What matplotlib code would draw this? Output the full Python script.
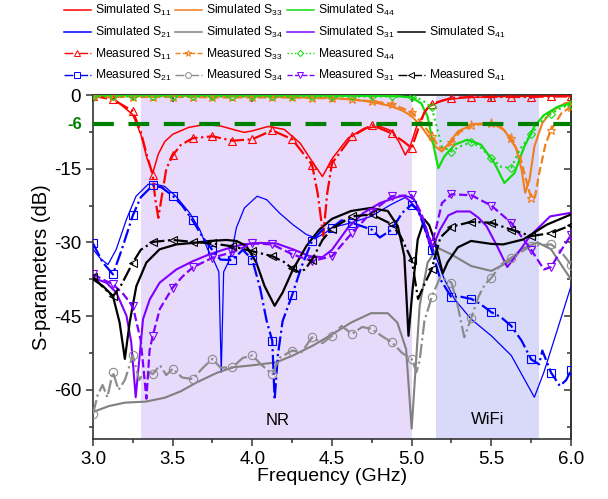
import matplotlib
matplotlib.use('Agg')
import matplotlib.pyplot as plt
from matplotlib.lines import Line2D
from matplotlib.font_manager import FontProperties
import matplotlib.transforms as mtransforms
import numpy as np

plt.rcParams['font.family'] = ['Liberation Sans', 'DejaVu Sans']
plt.rcParams['mathtext.default'] = 'regular'
plt.rcParams['axes.unicode_minus'] = False

# ---- simulated curves (freq GHz, dB) ----
f_s11 = [3.0, 3.125, 3.25, 3.3, 3.34, 3.375, 3.41, 3.45, 3.5, 3.6, 3.7, 3.8, 3.9, 3.95, 4.0, 4.1, 4.2, 4.3,
         4.375, 4.44, 4.5, 4.6, 4.7, 4.8, 4.875, 4.92, 4.96, 4.99, 5.03, 5.1, 5.2, 5.35, 5.6, 6.0]
s_s11 = [-0.2, -0.6, -4.0, -8.0, -13.0, -15.9, -12.0, -9.5, -8.0, -6.6, -6.0, -6.3, -7.2, -7.6, -7.3, -6.4, -7.0, -9.8,
         -13.5, -16.6, -13.0, -8.8, -6.8, -6.4, -7.3, -9.5, -12.2, -10.5, -6.5, -2.5, -1.0, -0.5, -0.3, -0.2]

f_s33 = [3.0, 3.5, 4.0, 4.5, 4.625, 4.75, 4.875, 4.95, 5.0, 5.06, 5.1, 5.15, 5.19, 5.23, 5.29, 5.39, 5.5, 5.58,
         5.655, 5.69, 5.712, 5.74, 5.77, 5.82, 5.875, 5.96, 6.0]
s_s33 = [-0.1, -0.15, -0.3, -0.6, -0.9, -1.4, -2.3, -3.3, -4.3, -6.4, -8.2, -10.5, -11.5, -10.0, -7.4, -5.9, -5.7, -7.1,
         -10.8, -15.2, -19.9, -17.2, -10.5, -5.7, -3.4, -1.7, -1.4]

f_s44 = [3.0, 4.0, 4.9, 5.0, 5.06, 5.1, 5.13, 5.167, 5.205, 5.27, 5.35, 5.435, 5.52, 5.582, 5.645, 5.707, 5.77,
         5.83, 5.916, 6.0]
s_s44 = [-0.05, -0.05, -0.2, -0.5, -1.7, -4.4, -9.1, -14.9, -12.5, -10.1, -9.1, -10.1, -13.9, -17.9, -15.9, -10.5, -6.4,
         -4.1, -2.4, -1.7]

f_s21 = [3.0, 3.05, 3.094, 3.146, 3.21, 3.27, 3.345, 3.387, 3.45, 3.52, 3.607, 3.67, 3.72, 3.76, 3.79, 3.805, 3.82,
         3.85, 3.87, 3.9, 3.95, 4.03, 4.09, 4.17, 4.255, 4.34, 4.4, 4.46, 4.5, 4.62, 4.745, 4.87, 4.975, 5.017, 5.08,
         5.143, 5.205, 5.27, 5.373, 5.5, 5.625, 5.707, 5.77, 5.83, 5.916, 6.0]
s_s21 = [-31.4, -33.4, -34.5, -31.4, -25.3, -20.6, -18.2, -18.1, -18.6, -20.6, -24.0, -27.4, -31.4, -33.8, -36.0, -56.4,
         -36.0, -34.0, -32.0, -27.0, -23.0, -20.6, -21.3, -24.0, -26.4, -28.4, -29.1, -28.0, -27.0, -26.0, -24.7, -22.3,
         -20.6, -21.3, -26.0, -32.1, -37.5, -41.6, -45.6, -49.0, -53.0, -57.8, -61.5, -56.4, -47.6, -38.9]

f_s34 = [3.0, 3.1, 3.2, 3.33, 3.45, 3.55, 3.65, 3.78, 3.88, 4.0, 4.15, 4.255, 4.38, 4.506, 4.62, 4.745, 4.85, 4.91,
         4.965, 5.0, 5.03, 5.05, 5.1, 5.163, 5.247, 5.373, 5.5, 5.6, 5.686, 5.79, 5.875, 5.958, 6.0]
s_s34 = [-64.5, -63.3, -62.6, -62.4, -61.6, -60.3, -58.5, -56.5, -55.4, -55.0, -54.4, -53.0, -51.0, -48.6, -46.3, -44.4,
         -44.4, -46.3, -51.7, -67.9, -53.0, -42.9, -34.1, -31.1, -32.4, -34.8, -35.8, -34.1, -31.4, -30.0, -31.4, -35.5,
         -37.5]

f_s31 = [3.0, 3.084, 3.146, 3.21, 3.24, 3.268, 3.293, 3.314, 3.356, 3.418, 3.523, 3.628, 3.732, 3.837, 3.94, 4.046,
         4.15, 4.255, 4.36, 4.44, 4.5, 4.6, 4.697, 4.8, 4.906, 4.95, 4.99, 5.04, 5.074, 5.1, 5.126, 5.15, 5.178, 5.23,
         5.283, 5.366, 5.42, 5.47, 5.54, 5.6, 5.66, 5.743, 5.869, 5.994]
s_s31 = [-37.2, -38.2, -40.2, -44.9, -50.3, -61.5, -53.0, -45.6, -41.6, -38.2, -35.5, -33.8, -32.4, -31.3, -30.4, -30.1,
         -30.2, -31.4, -32.8, -33.0, -31.5, -27.0, -24.0, -22.0, -20.8, -20.5, -21.6, -23.5, -26.0, -29.0, -31.4, -29.5,
         -27.4, -24.5, -23.7, -23.7, -25.0, -26.7, -31.0, -35.0, -32.5, -28.7, -24.7, -24.0]

f_s41 = [3.0, 3.063, 3.125, 3.167, 3.2, 3.23, 3.272, 3.335, 3.418, 3.523, 3.628, 3.732, 3.837, 3.9, 3.962, 4.025, 4.077,
         4.14, 4.19, 4.255, 4.34, 4.42, 4.5, 4.62, 4.74, 4.85, 4.913, 4.954, 4.98, 5.006, 5.038, 5.08, 5.11, 5.143,
         5.195, 5.226, 5.29, 5.373, 5.5, 5.575, 5.7, 5.847, 6.0]
s_s41 = [-37.5, -38.9, -40.9, -46.3, -53.7, -46.3, -38.9, -34.1, -31.4, -30.4, -30.1, -29.7, -29.5, -29.7, -30.7, -34.1,
         -38.9, -42.9, -40.2, -35.5, -30.7, -27.4, -25.2, -23.6, -23.0, -23.6, -26.7, -32.8, -49.0, -39.5, -29.4, -25.3,
         -26.5, -29.5, -36.3, -34.0, -31.0, -29.7, -30.3, -30.4, -29.4, -26.4, -24.3]

# ---- measured curves (freq GHz, dB) ----
f_m11 = [3.0, 3.125, 3.25, 3.3, 3.34, 3.375, 3.39, 3.41, 3.43, 3.46, 3.5, 3.55, 3.625, 3.75, 3.875, 4.0, 4.125, 4.25,
         4.375, 4.41, 4.445, 4.47, 4.5, 4.625, 4.75, 4.875, 4.95, 5.0, 5.04, 5.08, 5.125, 5.25, 5.375, 5.5, 5.625, 5.75,
         5.875, 6.0]
s_m11 = [-0.2, -0.9, -3.3, -7.5, -12.5, -16.3, -21.0, -25.0, -21.0, -15.0, -12.3, -10.2, -8.8, -8.4, -9.3, -9.0, -7.2,
         -9.0, -14.2, -20.0, -28.7, -20.0, -13.9, -8.4, -6.1, -7.8, -9.5, -10.8, -7.0, -3.5, -1.8, -0.6, -0.4, -0.4, -0.4,
         -0.4, -0.3, -0.3]

f_m33 = [3.0, 3.125, 3.25, 3.375, 3.5, 3.625, 3.75, 3.875, 4.0, 4.125, 4.25, 4.375, 4.5, 4.625, 4.75, 4.875, 5.0, 5.06,
         5.125, 5.17, 5.2, 5.25, 5.3, 5.375, 5.5, 5.56, 5.625, 5.68, 5.72, 5.75, 5.775, 5.8, 5.84, 5.875, 5.94, 6.0]
s_m33 = [-0.3, -0.4, -0.4, -0.4, -0.4, -0.4, -0.5, -0.5, -0.5, -0.5, -0.5, -0.6, -0.7, -0.9, -1.3, -1.8, -3.5, -5.5,
         -8.3, -10.6, -10.9, -9.6, -7.6, -6.2, -5.7, -6.5, -8.8, -12.5, -17.5, -21.0, -20.6, -16.0, -10.0, -7.1, -3.7, -2.4]

f_m44 = [3.0, 3.125, 3.25, 3.375, 3.5, 3.625, 3.75, 3.875, 4.0, 4.125, 4.25, 4.375, 4.5, 4.625, 4.75, 4.875, 5.0, 5.06,
         5.125, 5.15, 5.19, 5.25, 5.3, 5.375, 5.43, 5.5, 5.56, 5.625, 5.68, 5.75, 5.8, 5.875, 5.94, 6.0]
s_m44 = [-0.3, -0.3, -0.3, -0.3, -0.3, -0.3, -0.3, -0.3, -0.3, -0.3, -0.3, -0.3, -0.3, -0.3, -0.3, -0.3, -0.4, -0.9,
         -2.5, -5.5, -10.5, -11.5, -10.5, -9.6, -10.6, -12.8, -14.6, -14.8, -11.0, -8.0, -5.8, -3.8, -2.6, -1.9]

f_m21 = [3.0, 3.06, 3.125, 3.18, 3.25, 3.3, 3.375, 3.43, 3.5, 3.56, 3.625, 3.69, 3.75, 3.8, 3.875, 3.94, 4.0, 4.05, 4.09,
         4.125, 4.14, 4.16, 4.19, 4.25, 4.31, 4.375, 4.44, 4.5, 4.56, 4.625, 4.75, 4.8, 4.875, 4.94, 5.0, 5.04, 5.08,
         5.125, 5.18, 5.25, 5.3, 5.375, 5.43, 5.5, 5.56, 5.625, 5.69, 5.75, 5.8, 5.82, 5.875, 5.93, 5.97, 6.0]
s_m21 = [-30.2, -34.0, -36.5, -31.5, -24.5, -20.8, -18.4, -18.8, -20.5, -22.5, -25.5, -29.0, -31.6, -33.5, -33.6, -31.5,
         -33.5, -39.5, -46.0, -50.0, -62.0, -53.0, -46.0, -40.7, -34.8, -29.7, -27.4, -27.0, -25.5, -26.0, -27.4, -29.0,
         -27.4, -24.0, -22.3, -23.5, -27.0, -31.5, -37.5, -41.2, -41.0, -41.5, -42.5, -44.2, -45.2, -47.0, -50.0, -53.8,
         -54.8, -52.0, -56.5, -59.2, -58.0, -56.0]

f_m34 = [3.0, 3.03, 3.06, 3.09, 3.125, 3.16, 3.2, 3.25, 3.29, 3.33, 3.375, 3.42, 3.46, 3.5, 3.56, 3.625, 3.69, 3.75, 3.8,
         3.875, 3.94, 4.0, 4.06, 4.125, 4.17, 4.25, 4.31, 4.375, 4.44, 4.5, 4.56, 4.625, 4.69, 4.75, 4.81, 4.875, 4.94,
         5.0, 5.03, 5.05, 5.08, 5.125, 5.18, 5.25, 5.29, 5.33, 5.375, 5.42, 5.46, 5.5, 5.56, 5.625, 5.75, 5.875, 5.94, 6.0]
s_m34 = [-64.9, -61.0, -59.0, -61.5, -56.4, -60.0, -58.0, -53.0, -58.0, -56.0, -56.8, -55.0, -57.0, -55.7, -57.5, -57.8,
         -55.5, -53.7, -55.5, -55.4, -53.5, -53.0, -55.0, -56.8, -53.5, -52.0, -52.3, -49.3, -50.5, -49.0, -47.0, -48.6,
         -47.2, -47.6, -49.0, -50.3, -52.5, -53.7, -56.4, -54.0, -46.0, -41.2, -37.0, -38.2, -43.0, -49.3, -45.3, -41.0,
         -38.5, -37.2, -34.5, -33.1, -30.7, -30.4, -32.0, -34.5]

f_m31 = [3.0, 3.06, 3.125, 3.19, 3.25, 3.3, 3.335, 3.355, 3.375, 3.42, 3.5, 3.56, 3.625, 3.75, 3.875, 4.0, 4.125, 4.25,
         4.375, 4.5, 4.625, 4.75, 4.875, 5.0, 5.06, 5.1, 5.125, 5.15, 5.19, 5.25, 5.375, 5.5, 5.625, 5.75, 5.83, 5.875,
         5.94, 6.0]
s_m31 = [-36.5, -37.5, -38.5, -40.5, -43.0, -50.0, -61.8, -52.0, -49.0, -43.5, -39.2, -37.0, -35.1, -33.1, -32.0, -30.2,
         -30.4, -32.4, -33.8, -32.8, -28.1, -23.8, -20.6, -20.4, -24.0, -28.0, -30.4, -27.5, -22.0, -20.2, -20.4, -22.5,
         -26.0, -31.5, -35.5, -35.0, -31.5, -28.5]

f_m41 = [3.0, 3.06, 3.125, 3.18, 3.25, 3.3, 3.375, 3.5, 3.625, 3.75, 3.875, 4.0, 4.125, 4.2, 4.25, 4.29, 4.33, 4.375,
         4.44, 4.5, 4.625, 4.75, 4.875, 4.93, 5.0, 5.04, 5.08, 5.125, 5.18, 5.25, 5.375, 5.5, 5.625, 5.75, 5.875, 6.0]
s_m41 = [-37.0, -39.0, -41.0, -38.5, -34.1, -31.5, -29.9, -29.5, -29.9, -30.2, -30.8, -31.8, -32.8, -34.0, -35.3, -36.0,
         -35.5, -33.5, -29.5, -27.2, -24.7, -24.3, -26.3, -28.7, -33.5, -41.5, -38.5, -35.5, -29.0, -26.8, -25.8, -26.0,
         -27.4, -28.7, -28.1, -26.5]

RED, ORANGE, GREEN, BLUE = '#ff0000', '#f07f1e', '#11dd11', '#0000ff'
GRAY, PURPLE, BLACK = '#808080', '#8000ff', '#000000'

sim = [
    ('Simulated S$_{11}$', f_s11, s_s11, dict(color=RED, lw=1.1)),
    ('Simulated S$_{21}$', f_s21, s_s21, dict(color=BLUE, lw=0.9)),
    ('Simulated S$_{33}$', f_s33, s_s33, dict(color=ORANGE, lw=1.5)),
    ('Simulated S$_{34}$', f_s34, s_s34, dict(color=GRAY, lw=1.5)),
    ('Simulated S$_{44}$', f_s44, s_s44, dict(color=GREEN, lw=1.6)),
    ('Simulated S$_{31}$', f_s31, s_s31, dict(color=PURPLE, lw=1.5)),
    ('Simulated S$_{41}$', f_s41, s_s41, dict(color=BLACK, lw=1.6)),
]
meas = [
    ('Measured S$_{11}$', f_m11, s_m11, dict(color=RED, lw=1.6, ls='-.', marker='^')),
    ('Measured S$_{21}$', f_m21, s_m21, dict(color=BLUE, lw=1.6, ls='-.', marker='s')),
    ('Measured S$_{33}$', f_m33, s_m33, dict(color=ORANGE, lw=1.6, ls='--', marker='*')),
    ('Measured S$_{34}$', f_m34, s_m34, dict(color='#8c8c8c', lw=1.6, ls='-.', marker='o')),
    ('Measured S$_{44}$', f_m44, s_m44, dict(color=GREEN, lw=1.5, ls=':', marker='D')),
    ('Measured S$_{31}$', f_m31, s_m31, dict(color=PURPLE, lw=1.6, ls='--', marker='v')),
    ('Measured S$_{41}$', f_m41, s_m41, dict(color=BLACK, lw=1.6, ls='-.', marker='<')),
]
msize = {'^': 6, 's': 5.5, '*': 6.5, 'o': 6, 'D': 4.5, 'v': 6, '<': 6}

fig = plt.figure(figsize=(6.08, 4.99), dpi=100)
ax = fig.add_axes([93 / 608, 60 / 499, 478 / 608, 344 / 499])

ax.axvspan(3.3, 5.0, color='#e8dafb', lw=0, zorder=0)
ax.axvspan(5.15, 5.8, color='#d9dafa', lw=0, zorder=0)

handles = {}
for lab, f, s, st in sim:
    ax.plot(f, s, **st, zorder=3)
    handles[lab] = Line2D([], [], color=st['color'], lw=1.1)

for lab, f, s, st in meas:
    f = np.asarray(f)
    r = (f - 3.0) / 0.125
    mk = list(np.isclose(r, np.round(r)))
    ms = msize[st['marker']]
    ax.plot(f, s, **st, ms=ms, mfc='none', mew=0.8, markevery=mk, zorder=3)
    handles[lab] = Line2D([], [], color=st['color'], lw=1.0, ls=st['ls'], marker=st['marker'],
                          ms=ms * 0.7, mfc='white', mew=0.7)

ax.axhline(-6, color='#008000', lw=3, ls=(0, (5, 3.5)), zorder=5)
trans = mtransforms.blended_transform_factory(ax.transAxes, ax.transData)
ax.text(-0.023, -6, '-6', transform=trans, ha='right', va='center',
        color='#008000', fontsize=12, fontweight='bold')

ax.text(4.16, -66.3, 'NR', fontsize=12, ha='center', va='center')
ax.text(5.475, -66.0, 'WiFi', fontsize=12, ha='center', va='center')

ax.set_xlim(3.0, 6.0)
ax.set_ylim(-70, 0)
ax.set_xticks([3.0, 3.5, 4.0, 4.5, 5.0, 5.5, 6.0])
ax.set_xticks(np.arange(3.25, 6.0, 0.5), minor=True)
ax.set_yticks([0, -15, -30, -45, -60])
ax.set_yticks([-7.5, -22.5, -37.5, -52.5, -67.5], minor=True)
ax.set_xticklabels(['3.0', '3.5', '4.0', '4.5', '5.0', '5.5', '6.0'])
ax.tick_params(which='both', direction='out', labelsize=13.5, width=1.1, color='#333333')
ax.tick_params(which='major', length=5)
ax.tick_params(which='minor', length=3)

secx = ax.secondary_xaxis('top')
secx.set_xticks(ax.get_xticks())
secx.set_xticks(np.arange(3.25, 6.0, 0.5), minor=True)
secx.tick_params(which='both', direction='in', labeltop=False, width=1.1, color='#333333')
secx.tick_params(which='major', length=5)
secx.tick_params(which='minor', length=3)
secy = ax.secondary_yaxis('right')
secy.set_yticks([0, -15, -30, -45, -60])
secy.set_yticks([-7.5, -22.5, -37.5, -52.5, -67.5], minor=True)
secy.tick_params(which='both', direction='in', labelright=False, width=1.1, color='#333333')
secy.tick_params(which='major', length=5)
secy.tick_params(which='minor', length=3)
for sp in list(ax.spines.values()) + [secx.spines['top'], secy.spines['right']]:
    sp.set_linewidth(1.2)
    sp.set_color('#333333')

ax.set_xlabel('Frequency (GHz)', fontsize=14, labelpad=0)
ax.set_ylabel('S-parameters (dB)', fontsize=14.5, labelpad=2)

# legend: one block per column, columns placed like the original
columns = [
    ['Simulated S$_{11}$', 'Simulated S$_{21}$', 'Measured S$_{11}$', 'Measured S$_{21}$'],
    ['Simulated S$_{33}$', 'Simulated S$_{34}$', 'Measured S$_{33}$', 'Measured S$_{34}$'],
    ['Simulated S$_{44}$', 'Simulated S$_{31}$', 'Measured S$_{44}$', 'Measured S$_{31}$'],
    [None, 'Simulated S$_{41}$', None, 'Measured S$_{41}$'],
]
col_x = [64, 175, 287, 398]

for col, x0 in zip(columns, col_x):
    hs, ls, blank = [], [], []
    for i, k in enumerate(col):
        if k is None:
            hs.append(Line2D([], [], ls='none'))
            ls.append('Simulated S$_{11}$')
            blank.append(i)
        else:
            hs.append(handles[k])
            ls.append(k)
    leg = fig.legend(hs, ls, loc='upper left', bbox_to_anchor=(x0 / 608, 1 - 3 / 499), frameon=False,
                     prop=FontProperties(family='Liberation Sans', size=8.7), handlelength=2.2,
                     handletextpad=0.4, labelspacing=0.55, borderaxespad=0, borderpad=0)
    for i in blank:
        leg.get_texts()[i].set_visible(False)

fig.savefig('out.png', dpi=100)
